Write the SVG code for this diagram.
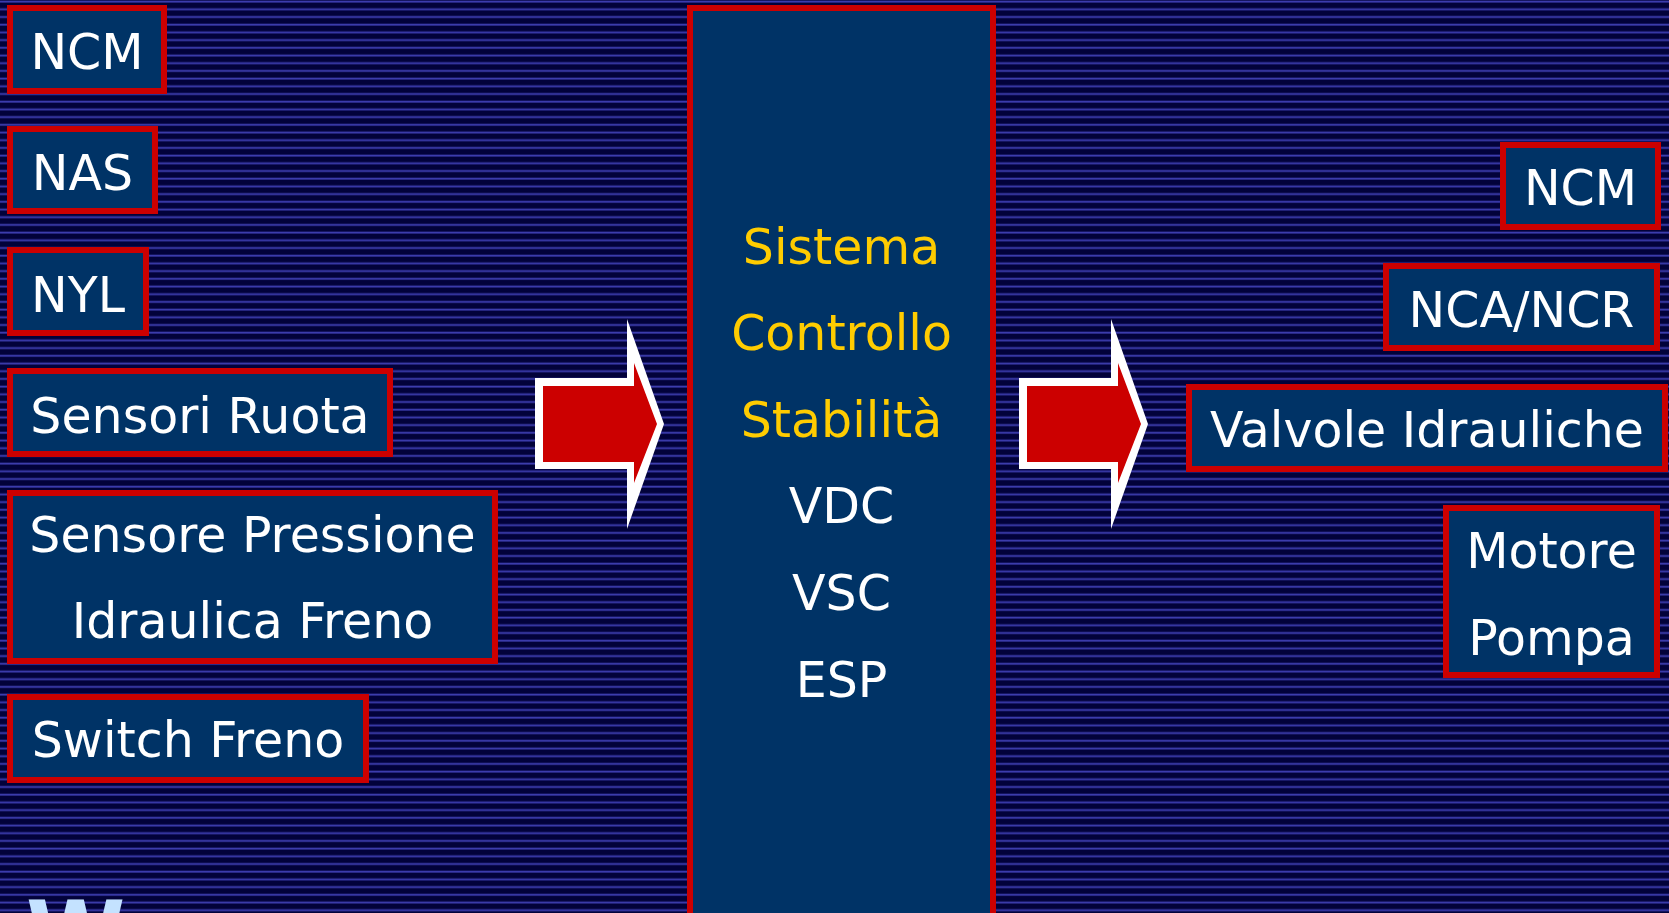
<svg xmlns="http://www.w3.org/2000/svg" width="1669" height="913" viewBox="0 0 1669 913">
  <defs>
    <pattern id="scanlines" patternUnits="userSpaceOnUse" x="0" y="0" width="16" height="7.7">
      <rect x="0" y="0" width="16" height="7.7" fill="#02023a"/>
      <rect x="0" y="0.4" width="16" height="2.4" fill="#1c1c6e"/>
      <rect x="0" y="0.9" width="16" height="1.4" fill="#3d3db0"/>
    </pattern>
  </defs>
  <style>
    .box { fill: #003366; stroke: #cc0000; stroke-width: 6; }
    .lbl { font-family: "DejaVu Sans", Verdana, sans-serif; font-size: 49px; fill: #ffffff; text-anchor: middle; }
    .hl { fill: #ffcc00; }
    .arrow-out { fill: #ffffff; }
    .arrow-in { fill: #cc0000; }
  </style>

  <!-- striped backdrop -->
  <rect x="0" y="0" width="1669" height="913" fill="url(#scanlines)"/>

  <!-- inputs -->
  <g id="in-ncm">
    <rect class="box" x="10" y="8" width="154" height="83"/>
    <text class="lbl" x="87" y="69">NCM</text>
  </g>
  <g id="in-nas">
    <rect class="box" x="10" y="129" width="145" height="82"/>
    <text class="lbl" x="82.5" y="190">NAS</text>
  </g>
  <g id="in-nyl">
    <rect class="box" x="10" y="250" width="136" height="83"/>
    <text class="lbl" x="78" y="312">NYL</text>
  </g>
  <g id="in-sensori-ruota">
    <rect class="box" x="10" y="371" width="380" height="83"/>
    <text class="lbl" x="200" y="433">Sensori Ruota</text>
  </g>
  <g id="in-sensore-pressione">
    <rect class="box" x="10" y="493" width="485" height="168"/>
    <text class="lbl" x="252.5" y="552">Sensore Pressione</text>
    <text class="lbl" x="252.5" y="638">Idraulica Freno</text>
  </g>
  <g id="in-switch-freno">
    <rect class="box" x="10" y="697" width="356" height="83"/>
    <text class="lbl" x="188" y="757">Switch Freno</text>
  </g>

  <!-- control unit -->
  <g id="controller">
    <rect class="box" x="690" y="8" width="303" height="925"/>
    <text class="lbl hl" x="841.5" y="264">Sistema</text>
    <text class="lbl hl" x="841.5" y="350">Controllo</text>
    <text class="lbl hl" x="841.5" y="437">Stabilità</text>
    <text class="lbl" x="841.5" y="523">VDC</text>
    <text class="lbl" x="841.5" y="610">VSC</text>
    <text class="lbl" x="841.5" y="697">ESP</text>
  </g>

  <!-- outputs -->
  <g id="out-ncm">
    <rect class="box" x="1503" y="145" width="155" height="82"/>
    <text class="lbl" x="1580.5" y="205">NCM</text>
  </g>
  <g id="out-nca-ncr">
    <rect class="box" x="1386" y="266" width="271" height="82"/>
    <text class="lbl" x="1521.5" y="327">NCA/NCR</text>
  </g>
  <g id="out-valvole">
    <rect class="box" x="1189" y="387" width="476" height="82"/>
    <text class="lbl" x="1427" y="447">Valvole Idrauliche</text>
  </g>
  <g id="out-motore-pompa">
    <rect class="box" x="1446" y="508" width="211" height="167"/>
    <text class="lbl" x="1551.5" y="568">Motore</text>
    <text class="lbl" x="1551.5" y="655">Pompa</text>
  </g>

  <!-- block arrows -->
  <g id="connectors">
    <g id="arrow-in">
      <polygon class="arrow-out" points="535,378 627,378 627,319 664,424 627,529 627,469 535,469"/>
      <polygon class="arrow-in" points="543,386 634,386 634,363 657,424 634,483 634,462 543,462"/>
    </g>
    <g id="arrow-out" transform="translate(484,0)">
      <polygon class="arrow-out" points="535,378 627,378 627,319 664,424 627,529 627,469 535,469"/>
      <polygon class="arrow-in" points="543,386 634,386 634,363 657,424 634,483 634,462 543,462"/>
    </g>
  </g>

  <!-- heading glyph running off the lower edge -->
  <text x="26" y="966" font-family="DejaVu Sans, sans-serif" font-weight="bold" font-size="90" fill="#c4e2ff">W</text>
</svg>
